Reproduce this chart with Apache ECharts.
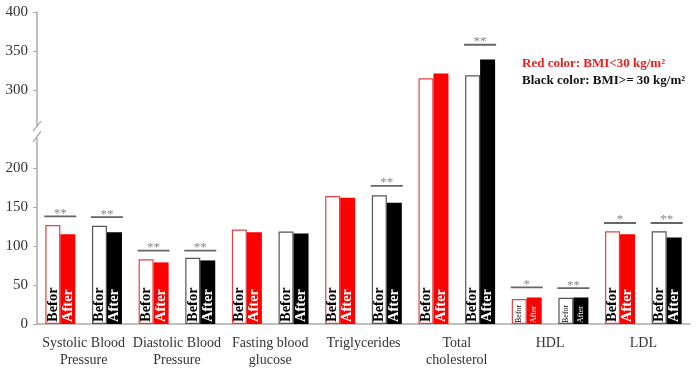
<!DOCTYPE html>
<html>
<head>
<meta charset="utf-8">
<script src="https://cdn.jsdelivr.net/npm/echarts@6/dist/echarts.min.js"></script>
<style>
  html, body { margin: 0; padding: 0; background: #fff; }
  #chart { width: 699px; height: 370px; }
</style>
</head>
<body>
<div id="chart"></div>
<script>
const categories = ['Systolic Blood\nPressure', 'Diastolic Blood\nPressure', 'Fasting blood\nglucose', 'Triglycerides', 'Total\ncholesterol', 'HDL', 'LDL']
const redBefore = [127, 83, 121, 164, 315, 32, 119]
const redAfter = [115, 79, 117.5, 162, 321, 34, 115]
const blackBefore = [126, 85, 118.5, 165, 319, 33.5, 119]
const blackAfter = [117.5, 81.5, 116, 155.5, 339, 34, 111]
// significance marks and the height of their bars
const redSig = ['**', '**', '', '', '', '*', '*']
const blackSig = ['**', '**', '', '**', '**', '**', '**']
const redSigLevel = [138, 94, null, null, null, 47, 129.5]
const blackSigLevel = [137, 94, null, 177, 358, 46, 129.5]
const yTicks = [0, 50, 100, 150, 200, 300, 350, 400]

const FONT = '"Liberation Serif", "DejaVu Serif", serif'
const GRID_LEFT = 37
const RED = '#ff0000'

const chart = echarts.init(document.getElementById('chart'))

// 14 sub groups: red / black per category
const subgroups = []
const beforeItems = []
const afterItems = []
const sigData = []
const sigMarks = []
categories.forEach((c, i) => {
  const small = c === 'HDL'
  const lbl = small ? { fontSize: 8, fontWeight: 'normal', distance: 1 } : {}
  ;[['R', redBefore, redAfter, RED, '#e84040', redSig, redSigLevel],
    ['B', blackBefore, blackAfter, '#000', '#555', blackSig, blackSigLevel]].forEach((g) => {
    const idx = subgroups.length
    subgroups.push(c + '-' + g[0])
    beforeItems.push({
      value: g[1][i],
      itemStyle: { color: '#fff', borderColor: g[4], borderWidth: 1.2 },
      label: lbl,
    })
    afterItems.push({
      value: g[2][i],
      itemStyle: { color: g[3] },
      label: lbl,
    })
    if (g[5][i]) {
      sigData.push([idx, g[6][i]])
      sigMarks.push(g[5][i])
    }
  })
})

const barLabel = {
  show: true,
  position: 'insideBottom',
  rotate: 90,
  align: 'left',
  verticalAlign: 'middle',
  distance: 2,
  fontFamily: FONT,
  fontWeight: 'bold',
  fontSize: 14.5,
}

const option = {
  animation: false,
  grid: { left: GRID_LEFT, right: 9, top: 12, bottom: 46 },
  xAxis: [
    { type: 'category', data: subgroups, show: false },
    {
      type: 'category',
      data: categories,
      position: 'bottom',
      axisLine: { lineStyle: { color: '#aaa', width: 1.5 } },
      axisTick: { alignWithLabel: true, length: 4, lineStyle: { color: '#aaa' } },
      axisLabel: { interval: 0, fontFamily: FONT, fontSize: 14, color: '#333', lineHeight: 17, margin: 11 },
    },
  ],
  yAxis: {
    type: 'value',
    min: 0,
    max: 400,
    interval: 50,
    axisLine: { show: true, lineStyle: { color: '#aaa', width: 1.5 } },
    axisTick: { show: true, length: 4, customValues: yTicks, lineStyle: { color: '#aaa' } },
    axisLabel: { customValues: yTicks, fontFamily: FONT, fontSize: 15, color: '#333', margin: 9 },
    splitLine: { show: false },
  },
  series: [
    {
      name: 'Befor',
      type: 'bar',
      xAxisIndex: 0,
      barWidth: 15,
      barGap: '0%',
      data: beforeItems,
      label: { ...barLabel, formatter: 'Befor', color: '#000' },
    },
    {
      name: 'After',
      type: 'bar',
      xAxisIndex: 0,
      barWidth: 15,
      barGap: '0%',
      data: afterItems,
      label: { ...barLabel, formatter: 'After', color: '#fff' },
    },
    {
      type: 'custom',
      xAxisIndex: 0,
      z: 5,
      data: sigData,
      encode: { x: 0, y: 1 },
      renderItem: (params, api) => {
        const p = api.coord([api.value(0), api.value(1)])
        const half = 16
        return {
          type: 'group',
          children: [
            {
              type: 'line',
              shape: { x1: p[0] - half, y1: p[1], x2: p[0] + half, y2: p[1] },
              style: { stroke: '#666', lineWidth: 1.8 },
            },
            {
              type: 'text',
              x: p[0],
              y: p[1] - 3,
              style: {
                text: sigMarks[params.dataIndex],
                fill: '#888',
                font: '13px ' + FONT,
                align: 'center',
                verticalAlign: 'middle',
              },
            },
          ],
        }
      },
    },
  ],
  graphic: [
    {
      type: 'text',
      left: 522,
      top: 57,
      style: { text: 'Red color: BMI<30 kg/m²', fill: '#ee1c1c', font: 'bold 13px ' + FONT },
    },
    {
      type: 'text',
      left: 522,
      top: 74,
      style: { text: 'Black color: BMI>= 30 kg/m²', fill: '#111', font: 'bold 13px ' + FONT },
    },
  ],
}

chart.setOption(option)

// axis break mark on the y axis
const yMid = chart.convertToPixel({ yAxisIndex: 0 }, 246)
const x = GRID_LEFT
chart.setOption({
  graphic: [
    option.graphic[0],
    option.graphic[1],
    {
      type: 'rect',
      shape: { x: x - 3, y: yMid - 6, width: 6, height: 12 },
      style: { fill: '#fff' },
      z: 10,
    },
    {
      type: 'line',
      shape: { x1: x - 4, y1: yMid - 1, x2: x + 4, y2: yMid - 11 },
      style: { stroke: '#aaa', lineWidth: 1.3 },
      z: 11,
    },
    {
      type: 'line',
      shape: { x1: x - 4, y1: yMid + 10, x2: x + 4, y2: yMid - 1 },
      style: { stroke: '#aaa', lineWidth: 1.3 },
      z: 11,
    },
  ],
})

window.addEventListener('resize', () => chart.resize())
</script>
</body>
</html>
